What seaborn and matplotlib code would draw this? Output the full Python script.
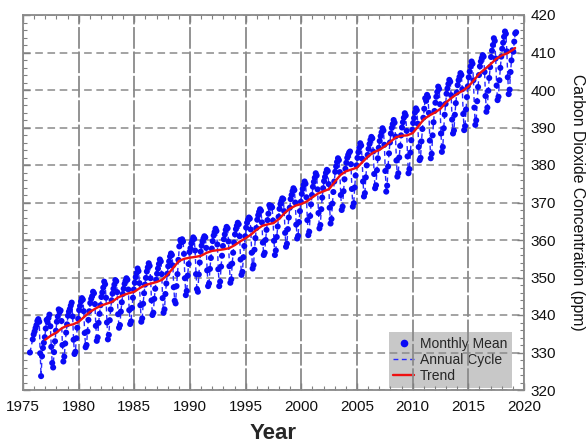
import numpy as np
import pandas as pd
import matplotlib
matplotlib.use("Agg")
import matplotlib.pyplot as plt
from matplotlib.lines import Line2D
from matplotlib.ticker import MultipleLocator
import seaborn as sns

nan = np.nan

# Monthly mean CO2 (ppm), Jan..Dec of each year
co2_1975 = [nan, nan, nan, nan, nan, nan, nan, 330.0, nan, nan, 333.5, 334.8]
co2_1976 = [335.6, 336.5, 337.3, 338.4, 338.9, 338.2, 329.8, 323.7, 329.0, 331.2, 332.6, 334.1]
co2_1977 = [336.4, 338.7, 338.1, 339.2, 340.1, 337.0, 331.5, 327.2, 326.0, 330.1, 333.0, 335.8]
co2_1978 = [338.2, 339.6, 341.5, 340.8, 341.2, 338.4, 332.0, 327.6, 328.9, 332.4, 335.3, 337.5]
co2_1979 = [339.8, 340.9, 341.6, 342.5, 343.3, 339.6, 333.4, 329.6, 330.2, 333.8, 336.6, 339.0]
co2_1980 = [341.3, 342.4, 343.6, 344.5, 344.1, 341.0, 335.2, 331.4, 332.0, 335.6, 338.7, 341.0]
co2_1981 = [343.2, 344.3, 345.0, 346.2, 345.8, 342.9, 337.1, 333.1, 334.0, 337.9, 340.3, 342.6]
co2_1982 = [344.8, 346.0, 347.3, 348.9, 348.2, 344.6, 338.0, 333.5, 334.7, 338.6, 341.5, 343.9]
co2_1983 = [345.7, 347.0, 348.1, 349.3, 349.0, 346.1, 340.2, 336.6, 337.3, 340.9, 343.4, 345.6]
co2_1984 = [347.0, 348.3, 349.1, 349.8, 349.4, 346.8, 341.3, 337.6, 338.3, 341.9, 344.6, 346.8]
co2_1985 = [348.6, 350.1, 351.2, 352.4, 351.7, 348.5, 342.6, 338.2, 339.1, 343.0, 345.8, 348.1]
co2_1986 = [349.9, 351.6, 352.7, 353.8, 353.1, 349.8, 343.9, 340.0, 340.6, 344.3, 347.0, 349.4]
co2_1987 = [351.0, 352.4, 353.6, 354.8, 354.3, 350.9, 344.5, 340.6, 341.5, 345.6, 348.4, 351.0]
co2_1988 = [353.0, 354.3, 355.6, 356.4, 356.0, 353.2, 347.4, 343.8, 343.1, 347.7, 350.9, 354.7]
co2_1989 = [358.3, 360.0, 359.4, 360.2, 359.6, 356.3, 349.8, 345.3, 346.4, 350.5, 353.6, 356.8]
co2_1990 = [357.8, 359.1, 359.9, 360.7, 360.3, 357.2, 350.9, 346.9, 346.2, 350.8, 354.0, 356.9]
co2_1991 = [358.5, 359.6, 360.4, 361.0, 360.7, 357.9, 351.9, 347.7, 348.4, 352.3, 355.2, 357.7]
co2_1992 = [359.7, 361.2, 362.1, 363.0, 362.4, 358.8, 352.2, 347.7, 348.9, 352.9, 355.8, 358.4]
co2_1993 = [360.2, 361.5, 362.7, 363.5, 363.1, 359.6, 353.0, 348.6, 349.5, 353.7, 356.6, 359.3]
co2_1994 = [361.5, 362.9, 363.8, 364.6, 364.2, 361.0, 354.8, 350.7, 351.5, 355.4, 358.4, 361.0]
co2_1995 = [363.3, 364.6, 365.4, 366.0, 365.7, 362.8, 356.6, 352.4, 353.3, 357.4, 360.5, 363.2]
co2_1996 = [365.4, 366.6, 367.5, 368.2, 367.8, 364.7, 359.3, 356.0, 356.6, 360.0, 362.7, 365.3]
co2_1997 = [367.0, 369.3, 368.6, 369.1, 368.7, 365.2, 359.8, 356.0, 357.2, 360.8, 363.6, 366.2]
co2_1998 = [368.3, 369.6, 370.4, 371.1, 370.9, 367.7, 361.9, 358.2, 359.0, 362.9, 366.0, 368.6]
co2_1999 = [370.9, 372.0, 373.0, 373.8, 373.3, 370.0, 364.1, 360.4, 361.1, 364.8, 367.7, 370.2]
co2_2000 = [372.3, 373.6, 374.7, 375.6, 375.0, 371.4, 365.3, 361.3, 362.2, 366.4, 369.5, 372.0]
co2_2001 = [374.2, 375.5, 376.6, 377.8, 377.2, 373.5, 367.2, 363.1, 364.0, 368.2, 371.3, 373.8]
co2_2002 = [375.7, 376.8, 377.9, 378.7, 378.4, 374.9, 368.6, 364.4, 365.6, 369.7, 372.8, 375.6]
co2_2003 = [378.2, 379.6, 380.8, 381.8, 381.3, 378.1, 372.0, 368.0, 368.9, 373.0, 376.2, 379.0]
co2_2004 = [380.6, 381.9, 382.7, 383.3, 383.6, 380.2, 373.6, 368.9, 369.8, 374.0, 377.2, 379.9]
co2_2005 = [381.9, 383.4, 384.6, 385.8, 385.2, 381.7, 375.6, 371.6, 372.5, 376.7, 379.9, 382.7]
co2_2006 = [384.3, 385.6, 386.7, 387.5, 387.1, 383.6, 377.6, 373.8, 374.6, 378.6, 381.8, 384.6]
co2_2007 = [386.4, 387.7, 388.7, 389.8, 389.2, 385.4, 378.4, 372.9, 374.5, 379.6, 383.1, 386.0]
co2_2008 = [388.4, 389.9, 390.9, 392.0, 391.3, 387.6, 381.2, 376.9, 377.8, 382.0, 385.1, 387.9]
co2_2009 = [390.0, 391.4, 392.6, 393.8, 393.2, 389.1, 382.3, 377.8, 378.9, 383.3, 386.6, 389.4]
co2_2010 = [391.2, 392.5, 394.0, 395.1, 394.6, 391.0, 384.8, 381.3, 381.9, 386.3, 389.6, 392.6]
co2_2011 = [395.0, 397.8, 397.1, 398.7, 398.1, 393.9, 386.5, 381.8, 383.0, 387.9, 391.4, 394.4]
co2_2012 = [396.6, 398.2, 399.5, 400.9, 400.3, 396.2, 388.4, 383.5, 384.8, 389.8, 393.4, 396.3]
co2_2013 = [399.0, 400.4, 401.6, 402.7, 402.2, 398.6, 392.1, 388.4, 389.2, 393.4, 396.5, 399.3]
co2_2014 = [401.3, 402.6, 403.5, 404.5, 404.0, 400.2, 393.6, 389.3, 390.4, 394.8, 398.1, 401.0]
co2_2015 = [403.4, 404.9, 406.3, 407.6, 407.0, 402.6, 395.3, 390.7, 391.9, 397.0, 400.8, 404.0]
co2_2016 = [406.3, 407.6, 408.5, 409.3, 408.9, 404.8, 398.4, 394.2, 395.3, 399.8, 403.2, 406.1]
co2_2017 = [408.8, 410.5, 412.0, 413.8, 413.1, 408.4, 401.2, 397.3, 398.2, 402.6, 405.9, 408.9]
co2_2018 = [411.0, 412.6, 414.2, 415.6, 415.0, 410.3, 403.4, 398.9, 400.1, 404.8, 407.9, 410.6]
co2_2019 = [410.2, 412.9, 415.1, 415.4, nan, nan, nan, nan, nan, nan, nan, nan]

years = list(range(1975, 2020))
monthly_rows = [
    co2_1975, co2_1976, co2_1977, co2_1978, co2_1979, co2_1980, co2_1981,
    co2_1982, co2_1983, co2_1984, co2_1985, co2_1986, co2_1987, co2_1988,
    co2_1989, co2_1990, co2_1991, co2_1992, co2_1993, co2_1994, co2_1995,
    co2_1996, co2_1997, co2_1998, co2_1999, co2_2000, co2_2001, co2_2002,
    co2_2003, co2_2004, co2_2005, co2_2006, co2_2007, co2_2008, co2_2009,
    co2_2010, co2_2011, co2_2012, co2_2013, co2_2014, co2_2015, co2_2016,
    co2_2017, co2_2018, co2_2019,
]

# Deseasonalised trend (ppm) at half-year steps
trend_year = [1977.0, 1977.5, 1978.0, 1978.5, 1979.0, 1979.5, 1980.0, 1980.5,
              1981.0, 1981.5, 1982.0, 1982.5, 1983.0, 1983.5, 1984.0, 1984.5,
              1985.0, 1985.5, 1986.0, 1986.5, 1987.0, 1987.5, 1988.0, 1988.5,
              1989.0, 1989.5, 1990.0, 1990.5, 1991.0, 1991.5, 1992.0, 1992.5,
              1993.0, 1993.5, 1994.0, 1994.5, 1995.0, 1995.5, 1996.0, 1996.5,
              1997.0, 1997.5, 1998.0, 1998.5, 1999.0, 1999.5, 2000.0, 2000.5,
              2001.0, 2001.5, 2002.0, 2002.5, 2003.0, 2003.5, 2004.0, 2004.5,
              2005.0, 2005.5, 2006.0, 2006.5, 2007.0, 2007.5, 2008.0, 2008.5,
              2009.0, 2009.5, 2010.0, 2010.5, 2011.0, 2011.5, 2012.0, 2012.5,
              2013.0, 2013.5, 2014.0, 2014.5, 2015.0, 2015.5, 2016.0, 2016.5,
              2017.0, 2017.5, 2018.0, 2018.5, 2019.0, 2019.2]
trend_ppm = [333.4, 334.5, 335.3, 336.5, 337.2, 337.5, 338.2, 339.5,
             340.8, 341.7, 342.5, 343.0, 343.5, 344.6, 345.3, 345.8,
             346.2, 347.2, 348.0, 348.4, 348.8, 349.4, 350.8, 352.6,
             354.4, 355.0, 355.3, 355.5, 355.8, 356.6, 357.1, 357.3,
             357.5, 357.8, 358.6, 359.6, 360.5, 361.5, 362.8, 363.8,
             364.2, 364.5, 365.6, 367.2, 368.4, 369.2, 369.6, 370.3,
             371.4, 372.4, 373.0, 373.6, 375.5, 377.3, 378.3, 378.8,
             379.3, 380.8, 382.3, 383.4, 384.0, 385.0, 386.2, 387.4,
             387.8, 387.9, 388.5, 390.3, 392.2, 393.2, 394.0, 395.0,
             396.7, 397.9, 399.0, 399.8, 400.9, 402.6, 404.4, 405.6,
             406.9, 408.3, 409.2, 409.8, 410.7, 411.2]

# Long table: decimal year at mid-month
records = []
for yr, row in zip(years, monthly_rows):
    for m, v in enumerate(row):
        records.append((yr + (m + 0.5) / 12.0, v))
monthly = pd.DataFrame(records, columns=["year", "ppm"]).dropna()
trend = pd.DataFrame({"year": trend_year, "ppm": trend_ppm})

sns.set_theme(style="white")
plt.rcParams["font.family"] = ["Liberation Sans", "DejaVu Sans"]

fig = plt.figure(figsize=(5.87, 4.43), dpi=100)
ax = fig.add_axes([23 / 587, 1 - 390 / 443, 501 / 587, 375 / 443])
ax.set_axisbelow(True)

point_blue = "#0a0af5"
sns.lineplot(data=monthly, x="year", y="ppm", ax=ax, estimator=None, sort=False,
             color="#2828ff", lw=1.0, linestyle=(0, (3.5, 2.5)), zorder=2)
sns.scatterplot(data=monthly, x="year", y="ppm", ax=ax, color=point_blue,
                s=19, edgecolor="none", linewidth=0, zorder=3)
sns.lineplot(data=trend, x="year", y="ppm", ax=ax, estimator=None, sort=False,
             color="#ee1111", lw=1.7, zorder=4)

ax.set_xlim(1975, 2020)
ax.set_ylim(320, 420)
ax.xaxis.set_major_locator(MultipleLocator(5))
ax.xaxis.set_minor_locator(MultipleLocator(1))
ax.yaxis.set_major_locator(MultipleLocator(10))
ax.yaxis.set_minor_locator(MultipleLocator(2))

ax.yaxis.tick_right()
ax.tick_params(which="both", direction="in", top=True, bottom=True,
               left=True, right=True, color="#808080")
ax.tick_params(which="major", length=5, width=1.0, labelsize=11,
               labelcolor="#111111")
ax.tick_params(axis="x", which="major", pad=7)
ax.tick_params(axis="y", which="major", pad=5)
ax.tick_params(which="minor", length=3, width=0.8)

grid_color = "#8a8a8a"
ax.grid(True, axis="y", which="major", color=grid_color, lw=1.1,
        linestyle=(0, (5, 3)))
ax.grid(True, axis="x", which="major", color=grid_color, lw=1.3,
        linestyle=(0, (12, 1.5)))
for side in ["left", "right", "bottom", "top"]:
    ax.spines[side].set_color("#8a8a8a")
    ax.spines[side].set_linewidth(1.3)
    ax.spines[side].set_visible(True)

ax.set_xlabel("Year", fontsize=16, fontweight="bold", labelpad=7)
ax.set_ylabel("")
fig.text(577 / 587, 1 - 202 / 443, "Carbon Dioxide Concentration (ppm)",
         rotation=270, ha="center", va="center", fontsize=11.3, color="#111111")

handles = [
    Line2D([], [], marker="o", linestyle="none", color=point_blue,
           markersize=5.5, markeredgewidth=0),
    Line2D([], [], color="#2828ff", lw=1.0, linestyle=(0, (3.5, 2.5))),
    Line2D([], [], color="#ee1111", lw=1.7),
]
leg = ax.legend(handles, ["Monthly Mean", "Annual Cycle", "Trend"],
                loc="lower right", bbox_to_anchor=(1 - 12 / 501, 2 / 375),
                borderaxespad=0, fontsize=10, frameon=True, fancybox=False,
                facecolor="#c8c8c8", edgecolor="none", framealpha=1,
                handlelength=1.5, handletextpad=0.4, labelspacing=0.15,
                borderpad=0.35)
leg.set_zorder(0.3)

fig.savefig("out.png", dpi=100)
